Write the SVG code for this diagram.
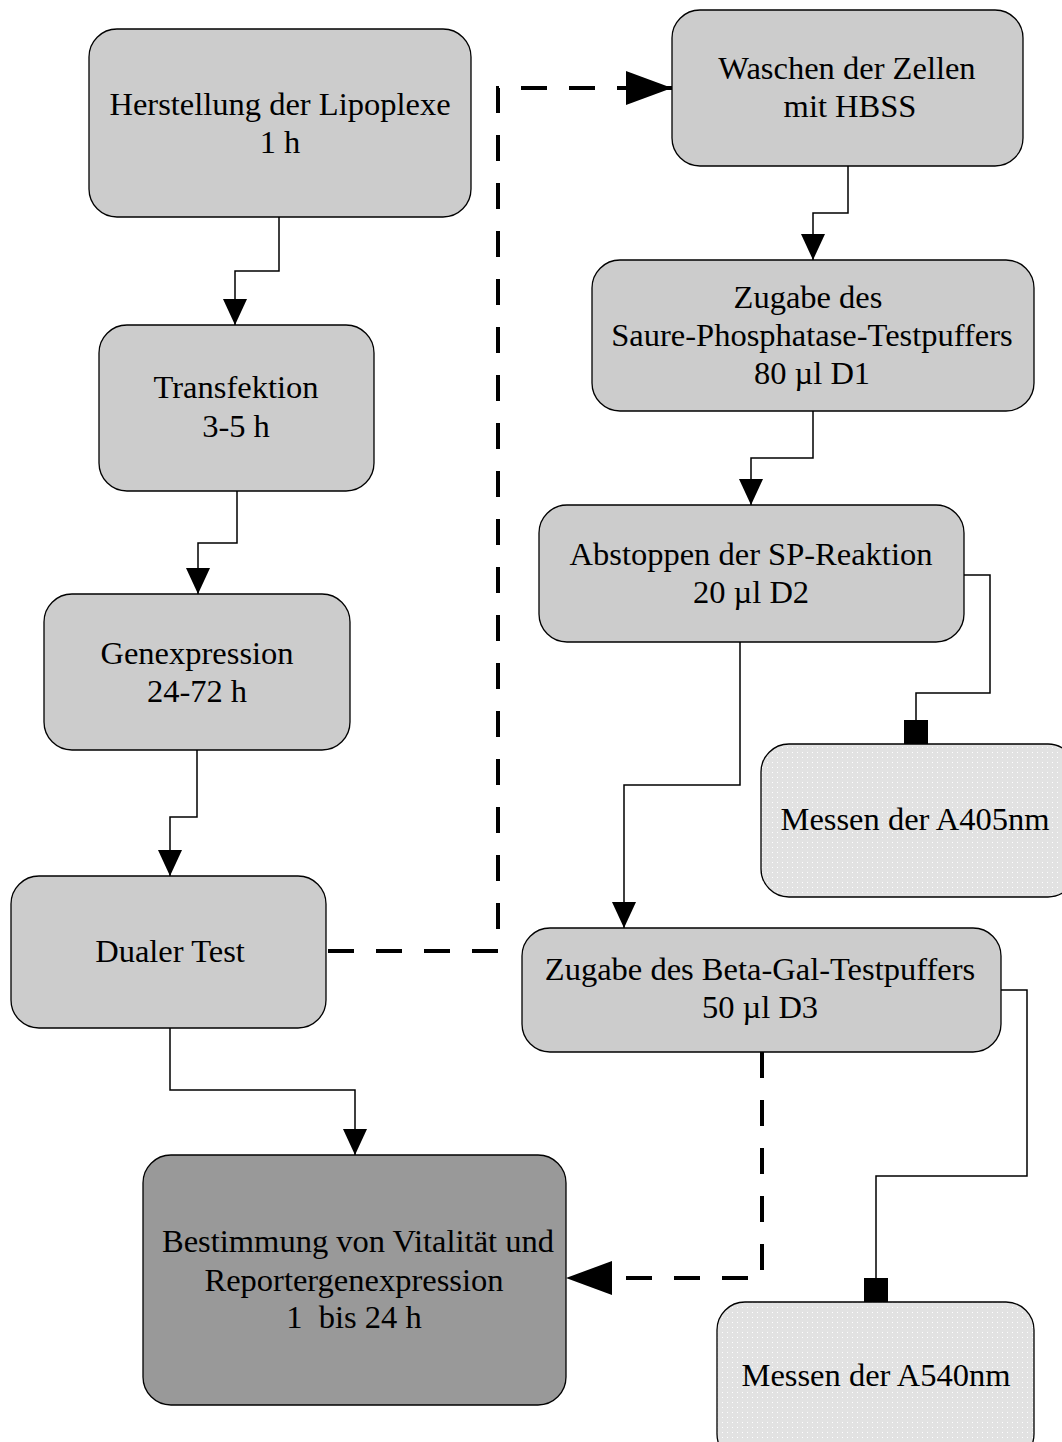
<svg xmlns="http://www.w3.org/2000/svg" width="1062" height="1442" viewBox="0 0 1062 1442">
<style>
.n{fill:#cccccc;stroke:#000;stroke-width:1.3}
.d{fill:#999999;stroke:#000;stroke-width:1.3}
.m{fill:url(#dots);stroke:#000;stroke-width:1.3}
text{font-family:"Liberation Serif",serif;font-size:32.5px;fill:#000;text-anchor:middle}
.c{fill:none;stroke:#000;stroke-width:1.5}
.dash{fill:none;stroke:#000;stroke-width:4;stroke-dasharray:26 22}
</style>
<defs>
<pattern id="dots" width="5" height="5" patternUnits="userSpaceOnUse">
<rect width="5" height="5" fill="#e2e2e2"/>
<rect x="2" y="2" width="1" height="1" fill="#ffffff"/>
</pattern>
<marker id="ar" markerUnits="userSpaceOnUse" markerWidth="26" markerHeight="26" refX="26" refY="12" orient="auto">
<path d="M0,0 L26,12 L0,24 Z" fill="#000"/>
</marker>
<marker id="arb" markerUnits="userSpaceOnUse" markerWidth="46" markerHeight="36" refX="46" refY="17" orient="auto">
<path d="M0,0 L46,17 L0,34 Z" fill="#000"/>
</marker>
<marker id="sq" markerUnits="userSpaceOnUse" markerWidth="24" markerHeight="24" refX="24" refY="12" orient="auto">
<rect x="0" y="0" width="24" height="24" fill="#000"/>
</marker>
</defs>
<g id="connectors">
<path class="c" d="M279,217 V271 H235 V325" marker-end="url(#ar)"/>
<path class="c" d="M237,491 V543 H198 V594" marker-end="url(#ar)"/>
<path class="c" d="M197,750 V817 H170 V876" marker-end="url(#ar)"/>
<path class="c" d="M170,1028 V1090 H355 V1155" marker-end="url(#ar)"/>
<path class="c" d="M848,166 V213 H813 V260" marker-end="url(#ar)"/>
<path class="c" d="M813,411 V458 H751 V505" marker-end="url(#ar)"/>
<path class="c" d="M740,642 V785 H624 V928" marker-end="url(#ar)"/>
<path class="c" d="M964,575 H990 V693 H916 V744" marker-end="url(#sq)"/>
<path class="c" d="M1001,990 H1027 V1176 H876 V1302" marker-end="url(#sq)"/>
<path class="dash" d="M328,951 H498 V88 H672" marker-end="url(#arb)"/>
<path class="dash" d="M762,1052 V1278 H566" marker-end="url(#arb)"/>
</g>
<g id="n1"><rect class="n" x="89" y="29" width="382" height="188" rx="28"/><text x="280" y="115">Herstellung der Lipoplexe</text><text x="280" y="153">1 h</text></g>
<g id="n2"><rect class="n" x="99" y="325" width="275" height="166" rx="28"/><text x="236" y="398">Transfektion</text><text x="236" y="437">3-5 h</text></g>
<g id="n3"><rect class="n" x="44" y="594" width="306" height="156" rx="28"/><text x="197" y="664">Genexpression</text><text x="197" y="702">24-72 h</text></g>
<g id="n4"><rect class="n" x="11" y="876" width="315" height="152" rx="28"/><text x="170" y="962">Dualer Test</text></g>
<g id="n5"><rect class="d" x="143" y="1155" width="423" height="250" rx="28"/><text x="358" y="1252">Bestimmung von Vitalität und</text><text x="354" y="1291">Reportergenexpression</text><text x="354" y="1328" xml:space="preserve">1  bis 24 h</text></g>
<g id="n6"><rect class="n" x="672" y="10" width="351" height="156" rx="28"/><text x="847" y="79">Waschen der Zellen</text><text x="850" y="117">mit HBSS</text></g>
<g id="n7"><rect class="n" x="592" y="260" width="442" height="151" rx="28"/><text x="808" y="308">Zugabe des</text><text x="812" y="346">Saure-Phosphatase-Testpuffers</text><text x="812" y="384">80 µl D1</text></g>
<g id="n8"><rect class="n" x="539" y="505" width="425" height="137" rx="28"/><text x="751" y="565">Abstoppen der SP-Reaktion</text><text x="751" y="603">20 µl D2</text></g>
<g id="n9"><rect class="m" x="761" y="744" width="315" height="153" rx="28"/><text x="915" y="830">Messen der A405nm</text></g>
<g id="n10"><rect class="n" x="522" y="928" width="479" height="124" rx="28"/><text x="760" y="980">Zugabe des Beta-Gal-Testpuffers</text><text x="760" y="1018">50 µl D3</text></g>
<g id="n11"><rect class="m" x="717" y="1302" width="317" height="160" rx="28"/><text x="876" y="1386">Messen der A540nm</text></g>
</svg>
